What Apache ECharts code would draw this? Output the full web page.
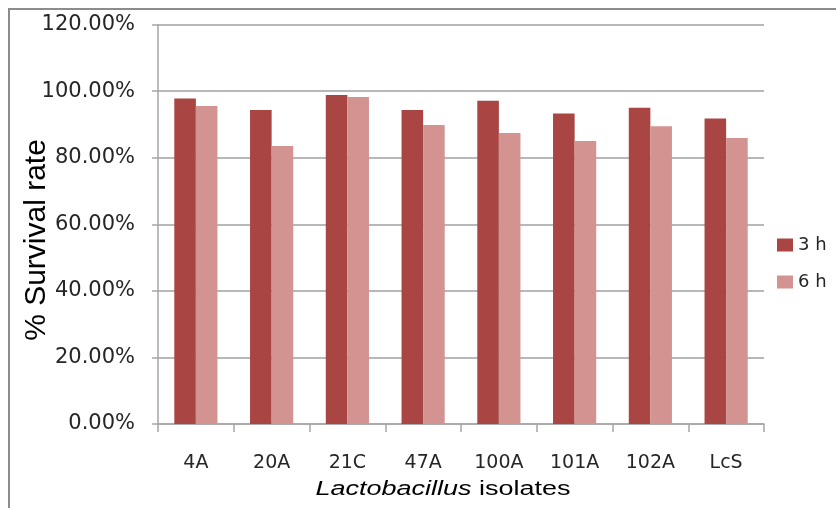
<!DOCTYPE html>
<html>
<head>
<meta charset="utf-8">
<script src="https://cdn.jsdelivr.net/npm/echarts@6/dist/echarts.min.js"></script>
<style>
  html, body { margin: 0; padding: 0; background: #fff; }
  #chart { width: 836px; height: 508px; }
</style>
</head>
<body>
<div id="chart"></div>
<script>
// Isolates and survival fractions after 3 h and 6 h
const isolates = ['4A', '20A', '21C', '47A', '100A', '101A', '102A', 'LcS'];
const survival3h = [0.978, 0.943, 0.988, 0.943, 0.971, 0.933, 0.950, 0.918];
const survival6h = [0.955, 0.835, 0.982, 0.898, 0.874, 0.850, 0.894, 0.859];
const seriesNames = ['3 h', '6 h'];
const yTicks = { min: 0, max: 1.2, step: 0.2 };

const chart = echarts.init(document.getElementById('chart'), null, { renderer: 'canvas' });

const tickFont = 'DejaVu Sans';
const titleFont = 'Liberation Sans';

chart.setOption({
  animation: false,
  backgroundColor: '#ffffff',
  grid: { left: 158, right: 72, top: 24.5, bottom: 84, containLabel: false },
  legend: {
    orient: 'vertical',
    left: 777,
    top: 236,
    padding: 0,
    itemWidth: 16,
    itemHeight: 13,
    itemGap: 19,
    icon: 'rect',
    data: seriesNames,
    textStyle: { fontFamily: tickFont, fontSize: 18, lineHeight: 18, color: '#262626' }
  },
  xAxis: {
    type: 'category',
    data: isolates,
    axisLine: { lineStyle: { color: '#A6A6A6', width: 1.5 } },
    axisTick: { show: true, length: 8, lineStyle: { color: '#A6A6A6', width: 1.5 } },
    axisLabel: { margin: 30, fontFamily: tickFont, fontSize: 19, lineHeight: 19, color: '#262626' }
  },
  yAxis: {
    type: 'value',
    min: yTicks.min,
    max: yTicks.max,
    interval: yTicks.step,
    axisLine: { show: true, lineStyle: { color: '#A6A6A6', width: 1.5 } },
    axisTick: { show: true, length: 6, lineStyle: { color: '#A6A6A6', width: 1.5 } },
    splitLine: { show: true, lineStyle: { color: '#B8B8B8', width: 2 } },
    axisLabel: {
      margin: 23,
      fontFamily: tickFont,
      fontSize: 21,
      color: '#262626',
      formatter: v => (v * 100).toFixed(2) + '%'
    }
  },
  series: [
    {
      name: seriesNames[0],
      type: 'bar',
      data: survival3h,
      barGap: '0%',
      barCategoryGap: '43%',
      itemStyle: { color: '#A94643' }
    },
    {
      name: seriesNames[1],
      type: 'bar',
      data: survival6h,
      itemStyle: { color: '#D39391' }
    }
  ],
  graphic: [
    // outer frame (left and top edges)
    { type: 'line', shape: { x1: 9, y1: 9, x2: 9, y2: 508 }, style: { stroke: '#8C8C8C', lineWidth: 2 } },
    { type: 'line', shape: { x1: 8, y1: 9, x2: 836, y2: 9 }, style: { stroke: '#8C8C8C', lineWidth: 2 } },
    // y-axis title
    {
      type: 'text',
      x: 37,
      y: 240,
      rotation: Math.PI / 2,
      style: {
        text: '% Survival rate',
        align: 'center',
        verticalAlign: 'middle',
        font: '30px "Liberation Sans", Arial, sans-serif',
        fill: '#000000'
      }
    },
    // x-axis title with italic genus name
    {
      type: 'text',
      x: 443,
      y: 489,
      scaleX: 1.35,
      style: {
        text: '{i|Lactobacillus} isolates',
        align: 'center',
        verticalAlign: 'middle',
        fontFamily: titleFont,
        fontSize: 20,
        fill: '#000000',
        rich: {
          i: { fontFamily: titleFont, fontSize: 20, fontStyle: 'italic', fill: '#000000' }
        }
      }
    }
  ]
});
</script>
</body>
</html>
